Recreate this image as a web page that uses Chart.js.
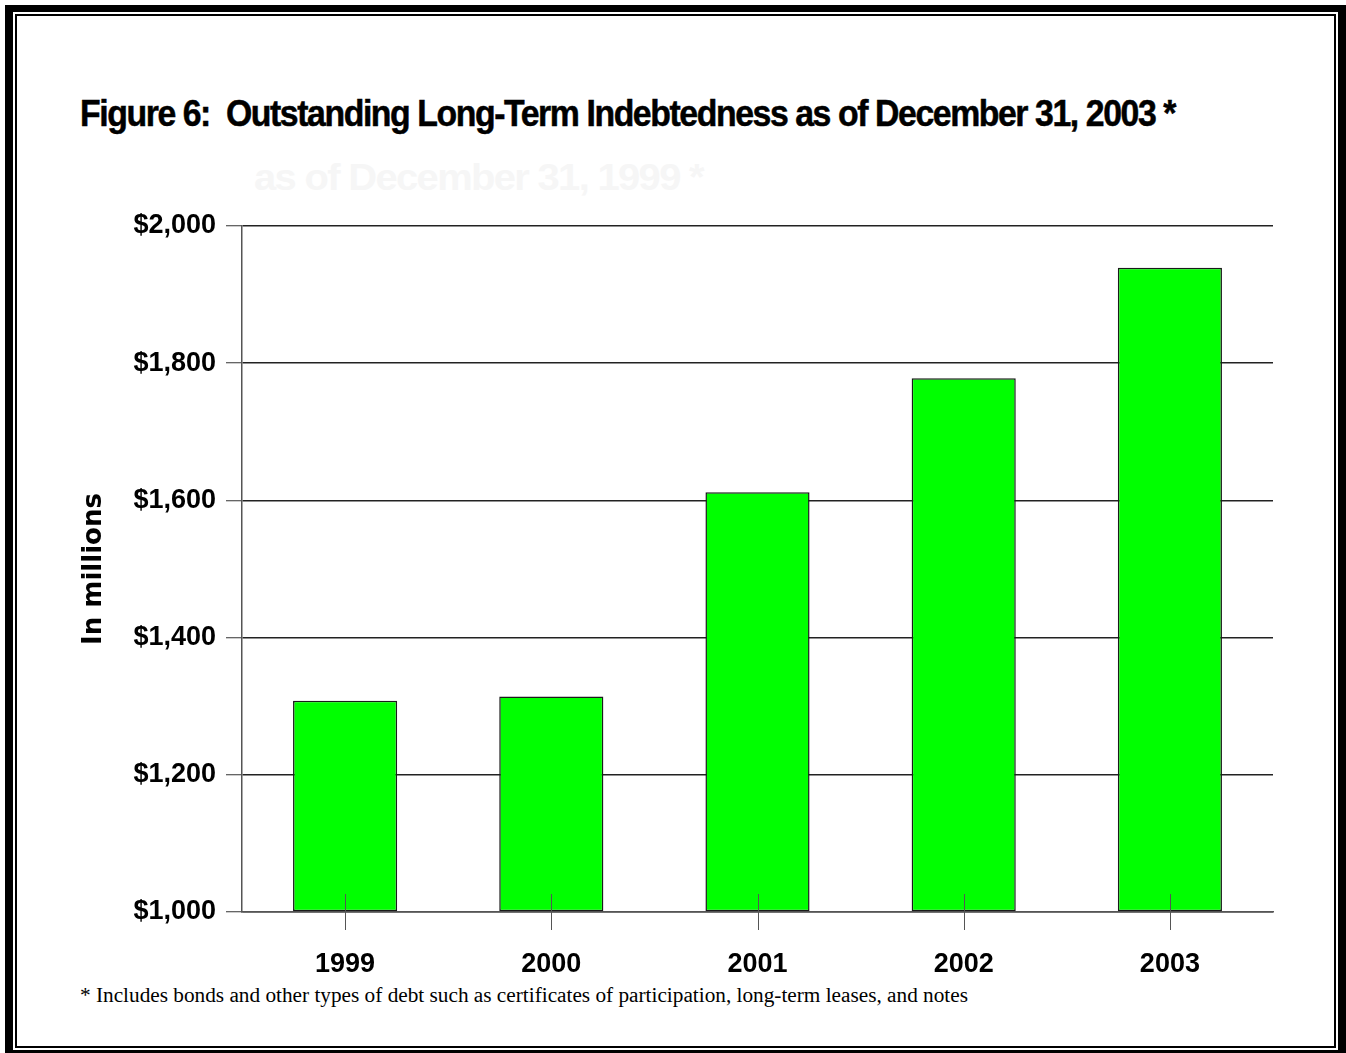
<!DOCTYPE html>
<html>
<head>
<meta charset="utf-8">
<script src="https://cdn.jsdelivr.net/npm/chart.js@4.4.0/dist/chart.umd.min.js"></script>
<style>
  html, body { margin: 0; padding: 0; background: #fff; }
  body { width: 1346px; height: 1053px; position: relative; overflow: hidden; }
  .frame-outer {
    position: absolute; left: 5px; top: 5px; width: 1341px; height: 1048px;
    box-sizing: border-box; border-style: solid; border-color: #000;
    border-width: 7px 8px 3px 8px; background: #fff;
  }
  .frame-inner {
    position: absolute; left: 15px; top: 14px; width: 1321px; height: 1034px;
    box-sizing: border-box; border: 2px solid #000;
  }
  .txt { position: absolute; white-space: pre; transform-origin: 0 0; display: inline-block; }
  #title {
    left: 80px; top: 96px; font: bold 36px "Liberation Sans", Arial, sans-serif; line-height: 35px;
    letter-spacing: -1.5px; color: #000; -webkit-text-stroke: 0.5px #000;
  }
  #ghost {
    left: 254px; top: 160px; font: bold 36px "Liberation Sans", Arial, sans-serif; line-height: 35px;
    letter-spacing: -1.5px; color: #f6f6f6;
  }
  #note { left: 80px; top: 985px; font: 20px "Liberation Serif", "Times New Roman", serif; line-height: 20px; color: #000; }
  #wrap { position: absolute; left: 0; top: 0; width: 1346px; height: 1053px; }
</style>
</head>
<body>
<div class="frame-outer"></div>
<div class="frame-inner"></div>
<span class="txt" id="title">Figure 6:  Outstanding Long-Term Indebtedness as of December 31, 2003 *</span>
<span class="txt" id="ghost">as of December 31, 1999 *</span>
<span class="txt" id="note">* Includes bonds and other types of debt such as certificates of participation, long-term leases, and notes</span>
<div id="wrap"><canvas id="chart"></canvas></div>

<script>
// years and outstanding debt, in millions of dollars
const years = ['1999', '2000', '2001', '2002', '2003'];
const debt = [1308, 1314, 1612, 1778, 1939];

// value axis range
const yMin = 1000;
const yMax = 2000;
const yStep = 200;

// squeeze a text line to the width it takes in the figure
const fitWidth = (id, width) => {
  const el = document.getElementById(id);
  const w = el.getBoundingClientRect().width;
  el.style.transform = `scaleX(${width / w})`;
}
fitWidth('title', 1095);
fitWidth('ghost', 449);
fitWidth('note', 888);

// short marks through the axis at each category centre
const centreMarks = {
  id: 'centreMarks',
  afterDatasetsDraw(chart) {
    const { ctx, scales: { x, y } } = chart;
    const base = y.getPixelForValue(yMin);
    ctx.save();
    ctx.strokeStyle = '#555';
    ctx.lineWidth = 1;
    years.forEach((yr, i) => {
      const px = Math.round(x.getPixelForValue(i)) + 0.5;
      ctx.beginPath();
      ctx.moveTo(px, base - 18);
      ctx.lineTo(px, base + 18);
      ctx.stroke();
    });
    ctx.restore();
  }
}

const labelFont = { family: '"Liberation Sans", Arial, sans-serif', size: 27, weight: 'bold' };

new Chart(document.getElementById('chart'), {
  type: 'bar',
  data: {
    labels: years,
    datasets: [{
      data: debt,
      backgroundColor: '#00ff00',
      borderColor: '#1a1a1a',
      borderWidth: 1.5,
      borderSkipped: false,
      categoryPercentage: 1,
      barPercentage: 0.505,
      base: yMin
    }]
  },
  options: {
    responsive: true,
    maintainAspectRatio: false,
    animation: false,
    events: [],
    layout: { padding: { top: 226, left: 76, right: 73, bottom: 57 } },
    plugins: {
      legend: { display: false },
      tooltip: { enabled: false },
      title: { display: false }
    },
    scales: {
      x: {
        afterFit: (scale) => { scale.height = 84; },
        grid: { display: false },
        border: { display: true, color: '#555', width: 1.5 },
        ticks: { color: '#000', font: labelFont, padding: 28, maxRotation: 0 }
      },
      y: {
        min: yMin,
        max: yMax,
        afterFit: (scale) => { scale.width = 166; },
        grid: { color: '#222', lineWidth: 1.5, tickLength: 16, tickColor: '#333', tickWidth: 1 },
        border: { display: true, color: '#555', width: 1.5 },
        ticks: {
          stepSize: yStep,
          color: '#000',
          font: labelFont,
          padding: 10,
          callback: (v) => '$' + v.toLocaleString('en-US')
        },
        title: {
          display: true,
          text: 'In millions',
          color: '#000',
          font: { family: '"DejaVu Sans", Verdana, sans-serif', size: 26, weight: 'bold' },
          padding: { top: 3, bottom: 4 }
        }
      }
    }
  },
  plugins: [centreMarks]
});
</script>
</body>
</html>
